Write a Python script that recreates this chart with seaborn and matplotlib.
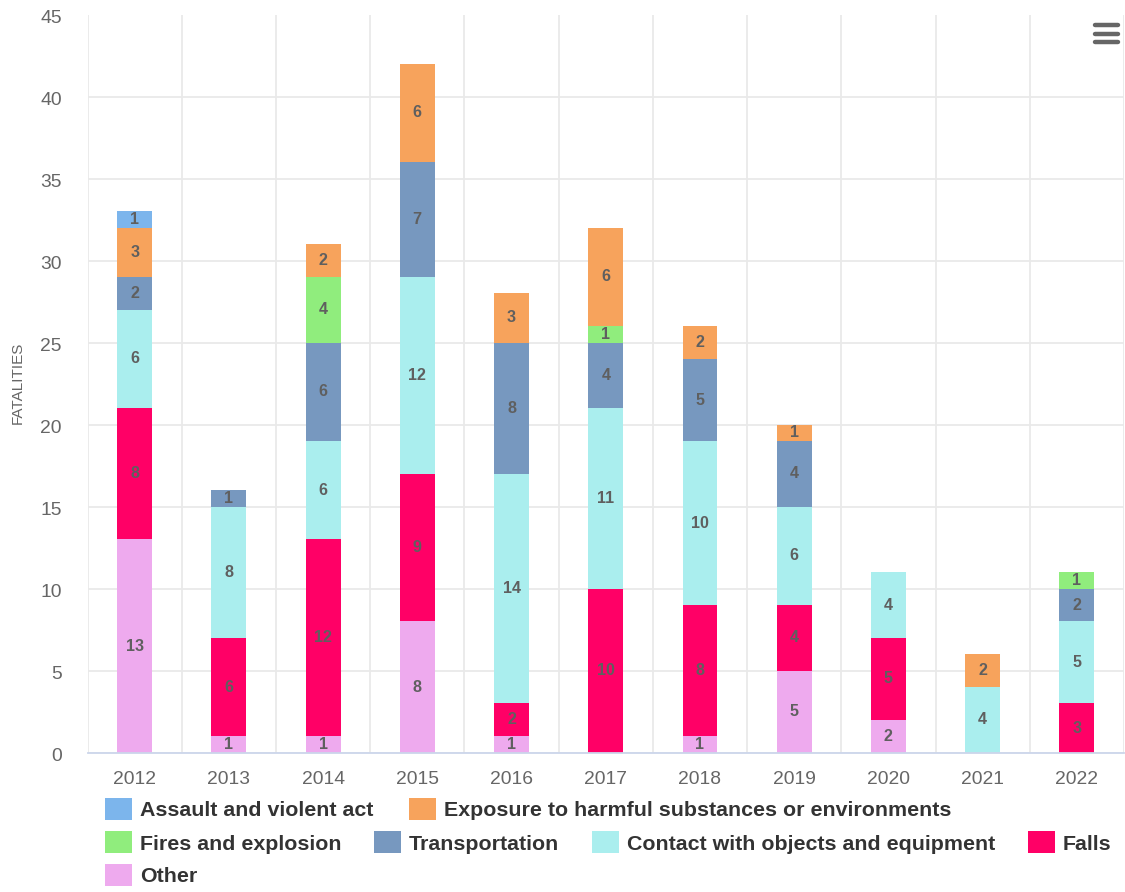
import numpy as np
import pandas as pd
import matplotlib
matplotlib.use("Agg")
import matplotlib.pyplot as plt
import matplotlib.transforms as mtransforms
from matplotlib.patches import Rectangle
import seaborn as sns

# ---------------- data ----------------
years = ["2012", "2013", "2014", "2015", "2016", "2017", "2018", "2019", "2020", "2021", "2022"]
# stacking order bottom -> top
other = [13, 1, 1, 8, 1, 0, 1, 5, 2, 0, 0]
falls = [8, 6, 12, 9, 2, 10, 8, 4, 5, 0, 3]
contact = [6, 8, 6, 12, 14, 11, 10, 6, 4, 4, 5]
transportation = [2, 1, 6, 7, 8, 4, 5, 4, 0, 0, 2]
fires = [0, 0, 4, 0, 0, 1, 0, 0, 0, 0, 1]
exposure = [3, 0, 2, 6, 3, 6, 2, 1, 0, 2, 0]
assault = [1, 0, 0, 0, 0, 0, 0, 0, 0, 0, 0]

series_names = ["Other", "Falls", "Contact with objects and equipment", "Transportation",
                "Fires and explosion", "Exposure to harmful substances or environments",
                "Assault and violent act"]
series_values = [other, falls, contact, transportation, fires, exposure, assault]
series_colors = ["#eeaaee", "#ff0066", "#aaeeee", "#7798bf", "#90ed7d", "#f7a35c", "#7cb5ec"]

legend_order = ["Assault and violent act", "Exposure to harmful substances or environments",
                "Fires and explosion", "Transportation", "Contact with objects and equipment",
                "Falls", "Other"]

y_ticks = [0, 5, 10, 15, 20, 25, 30, 35, 40, 45]

# ---------------- style ----------------
sns.set_theme(style="white")
plt.rcParams["font.family"] = ["Liberation Sans", "DejaVu Sans"]

W, H = 1125, 892
fig = plt.figure(figsize=(W / 100, H / 100), dpi=100)
left, right, top, bottom = 87.5, 1124, 14.5, 752.7
ax = fig.add_axes([left / W, 1 - bottom / H, (right - left) / W, (bottom - top) / H])

cum = np.zeros(len(years))
cums = []
for vals in series_values:
    cum = cum + np.array(vals, dtype=float)
    cums.append(cum.copy())

# draw from tallest cumulative (top series) down so lower segments overlay
bar_w = 0.37
for i in range(len(series_values) - 1, -1, -1):
    d = pd.DataFrame({"year": years, "v": cums[i]})
    sns.barplot(data=d, x="year", y="v", color=series_colors[i], width=bar_w,
                saturation=1, ax=ax, linewidth=0, zorder=3)

# data labels
for i, vals in enumerate(series_values):
    for j, v in enumerate(vals):
        if v > 0:
            ax.text(j, cums[i][j] - v / 2, str(v), ha="center", va="center",
                    fontsize=11.6, fontweight="bold", color="#5f5f5f", zorder=5)

ax.set_xlim(-0.5, len(years) - 0.5)
ax.set_ylim(0, 45)
ax.set_yticks(y_ticks)
ax.set_xlabel("")
ax.set_ylabel("")

# grid
ax.set_xticks(np.arange(-0.5, len(years), 1.0), minor=True)
ax.grid(axis="y", which="major", color="#e9e9e9", linewidth=1.3, zorder=0)
ax.grid(axis="x", which="minor", color="#e9e9e9", linewidth=1.3, zorder=0)
ax.set_axisbelow(True)

for s in ["top", "right", "left"]:
    ax.spines[s].set_visible(False)
ax.spines["bottom"].set_color("#ccd6eb")
ax.spines["bottom"].set_linewidth(1.3)
ax.spines["bottom"].set_zorder(4)

ax.tick_params(axis="x", which="major", length=0, pad=13.5, labelsize=13.9, labelcolor="#666666")
ax.tick_params(axis="x", which="minor", length=11.5, width=1.3, color="#ccd6eb", direction="out")
ax.tick_params(axis="y", which="major", length=0, pad=18.4, labelsize=13.9, labelcolor="#666666")
offset = mtransforms.ScaledTranslation(0, -4 / 100, fig.dpi_scale_trans)
for lab in ax.get_yticklabels():
    lab.set_verticalalignment("center")
    lab.set_transform(lab.get_transform() + offset)

# y-axis title
fig.text(17.5 / W, 1 - 383 / H, "FATALITIES", rotation=90, ha="center", va="center",
         fontsize=11, color="#666666")

# legend (manual, Highcharts-style flow layout)
color_of = dict(zip(series_names, series_colors))
legend_pos = {
    "Assault and violent act": (105, 809),
    "Exposure to harmful substances or environments": (409, 809),
    "Fires and explosion": (105, 842),
    "Transportation": (374, 842),
    "Contact with objects and equipment": (592, 842),
    "Falls": (1028, 842),
    "Other": (105, 875),
}
sw, sh = 27, 22
for name in legend_order:
    x, yc = legend_pos[name]
    fig.patches.append(Rectangle((x / W, 1 - (yc + sh / 2) / H), sw / W, sh / H,
                                 transform=fig.transFigure, facecolor=color_of[name],
                                 edgecolor="none"))
    fig.text((x + sw + 8) / W, 1 - (yc + 2) / H, name, ha="left", va="center",
             fontsize=15.4, fontweight="bold", color="#333333")

# hamburger menu icon
for yy in (25, 33.5, 42):
    fig.add_artist(plt.Line2D([1095 / W, 1118 / W], [1 - yy / H, 1 - yy / H],
                              transform=fig.transFigure, color="#666666", linewidth=3.2,
                              solid_capstyle="round"))

fig.savefig("out.png", dpi=100, facecolor="white")
